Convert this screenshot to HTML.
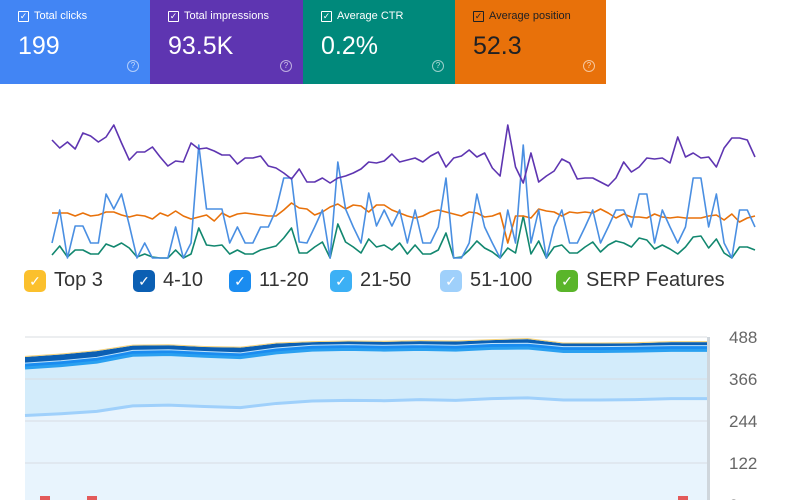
<!DOCTYPE html>
<html><head><meta charset="utf-8">
<style>
body{margin:0;width:800px;height:500px;overflow:hidden;background:#fff;font-family:"Liberation Sans",sans-serif;position:relative}
.card{position:absolute;top:0;height:84px;color:#fff}
.card .lbl{position:absolute;left:18px;top:10px;font-size:11px;display:flex;align-items:center;gap:5px}
.cb{width:9px;height:9px;border:1.3px solid currentColor;border-radius:1px;font-size:9px;line-height:9px;text-align:center}
.card .num{position:absolute;left:18px;top:32px;font-size:25px}
.card .help{position:absolute;right:11px;top:60px;width:10px;height:10px;border:1px solid rgba(255,255,255,.6);border-radius:50%;font-size:8px;line-height:10px;text-align:center;color:rgba(255,255,255,.7)}
.leg{position:absolute;top:269px;display:flex;align-items:center;font-size:20px;color:#333}
.leg .box{width:22px;height:22px;border-radius:5px;color:#fff;font-size:14px;line-height:22px;text-align:center;margin-right:8px}
</style></head><body>
<div class="card" style="left:0;width:150px;background:#4285f4"><div class="lbl"><span class="cb">✓</span>Total clicks</div><div class="num">199</div><div class="help">?</div></div>
<div class="card" style="left:150px;width:153px;background:#5e35b1"><div class="lbl"><span class="cb">✓</span>Total impressions</div><div class="num">93.5K</div><div class="help">?</div></div>
<div class="card" style="left:303px;width:152px;background:#00897b"><div class="lbl"><span class="cb">✓</span>Average CTR</div><div class="num">0.2%</div><div class="help">?</div></div>
<div class="card" style="left:455px;width:151px;background:#e8710a;color:#202124"><div class="lbl"><span class="cb">✓</span>Average position</div><div class="num">52.3</div><div class="help">?</div></div>

<svg id="lc" width="800" height="262" style="position:absolute;left:0;top:0"></svg>

<div class="leg" style="left:24px"><span class="box" style="background:#fbc02d">✓</span>Top 3</div>
<div class="leg" style="left:133px"><span class="box" style="background:#0b5fb3">✓</span>4-10</div>
<div class="leg" style="left:229px"><span class="box" style="background:#1a8cf0">✓</span>11-20</div>
<div class="leg" style="left:330px"><span class="box" style="background:#3cb0f5">✓</span>21-50</div>
<div class="leg" style="left:440px"><span class="box" style="background:#9fd0fb">✓</span>51-100</div>
<div class="leg" style="left:556px"><span class="box" style="background:#5ab52a">✓</span>SERP Features</div>

<svg id="ac" width="800" height="500" style="position:absolute;left:0;top:0;pointer-events:none"></svg>

<script>
// line chart data (relative values)
const purple=[110,102,108,101,117,114,108,113,125,107,90,98,98,103,93,84,89,88,107,101,102,99,95,95,86,92,92,94,84,82,77,71,81,68,68,72,67,72,74,77,81,88,87,89,96,88,90,92,88,94,98,83,92,94,100,93,97,82,74,125,83,67,97,68,74,79,91,87,71,72,72,68,64,72,88,78,83,92,91,92,87,113,93,97,92,93,83,102,112,112,110,93];
const blue=[7,40,-8,24,24,7,7,56,41,56,25,-8,7,-8,-8,-8,23,-8,7,105,41,41,41,7,23,7,7,23,23,40,72,72,8,7,23,40,-8,88,41,23,7,57,24,40,24,40,7,40,7,7,23,72,-8,-8,7,56,23,7,-8,40,7,105,7,40,-8,23,40,7,7,23,40,7,23,40,40,23,56,56,7,40,23,7,23,72,72,23,56,7,-8,40,40,23];
const orange=[37,37,37,34,37,34,35,38,38,35,33,35,34,31,37,34,39,34,31,33,35,29,37,33,36,37,36,35,34,34,40,47,42,41,35,38,43,46,41,45,44,38,45,45,40,37,34,32,34,38,40,38,36,34,38,37,33,34,37,7,34,34,32,41,39,38,34,38,37,38,37,41,37,32,36,33,33,32,36,33,32,33,32,32,32,34,35,30,36,28,32,34];
const green=[-5,4,-7,0,0,-4,-4,6,3,7,2,-7,-4,-7,-8,-8,0,-8,-4,22,5,4,5,-4,0,-4,-4,0,2,4,12,22,-3,-3,3,8,-8,26,8,3,-3,11,3,5,0,7,-4,5,-4,-4,0,17,-8,-7,0,9,2,-2,-8,2,-3,34,-4,9,-8,3,5,-3,-3,3,8,-2,5,9,7,3,12,10,1,5,1,-4,3,13,14,2,11,-3,-8,3,3,0];
// area chart data (per-series, stacked)
const s51=[260,265,272,288,290,286,283,295,302,304,303,306,304,309,311,305,305,306,309,309];
const s21=[138,140,143,147,147,146,145,147,148,148,147,146,146,146,145,141,141,141,140,140];
const s11=[14,14,14,14,14,14,14,14,14,14,14,14,14,14,14,14,14,14,14,14];
const s4=[18,18,18,14,13,13,15,13,9,9,10,10,11,10,12,9,9,9,10,10];
const s3=[3,3,3,3,3,3,3,3,3,3,3,3,3,3,3,3,3,3,3,3];
const ticks=[0,122,244,366,488];

const NS='http://www.w3.org/2000/svg';
function mk(parent,tag,attrs){const e=document.createElementNS(NS,tag);for(const k in attrs)e.setAttribute(k,attrs[k]);parent.appendChild(e);return e;}
const lc=document.getElementById('lc');
const lx=i=>52+i*(755-52)/(purple.length-1);
const ly=v=>250-v;
[[green,'#12876f','green-line'],[orange,'#e8710a','orange-line'],[blue,'#4a8fe2','blue-line'],[purple,'#5e35b1','purple-line']].forEach(([d,c,n])=>{
  const p=mk(lc,'polyline',{points:d.map((v,i)=>lx(i)+','+ly(v)).join(' '),fill:'none',stroke:c,'stroke-width':1.6,'stroke-linejoin':'round'});
  
  
});
const ac=document.getElementById('ac');
const X0=25,X1=707,Y0=505,YT=337;
const ax=i=>X0+i*(X1-X0)/(s51.length-1);
const ay=v=>Y0-(v/488)*(Y0-YT);
mk(ac,'rect',{x:X0,y:YT,width:X1-X0,height:Y0-YT,fill:'#fff'});
const stacks=[];let cum=s51.map(()=>0);
[[s51,'#e8f4fd','area-51-100'],[s21,'#d3ecfb','area-21-50'],[s11,'#1a8cf0','area-11-20'],[s4,'#0b5fb3','area-4-10'],[s3,'#f5d27a','area-top-3']].forEach(([d,fill,n])=>{
  const lo=cum.slice();cum=cum.map((c,i)=>c+d[i]);
  const pts=cum.map((v,i)=>ax(i)+','+ay(v)).join(' ')+' '+lo.map((v,i)=>ax(i)+','+ay(v)).reverse().join(' ');
  const a=mk(ac,'polygon',{points:pts,fill:fill});
  
  
  stacks.push(cum.slice());
});
const l1=mk(ac,'polyline',{points:stacks[0].map((v,i)=>ax(i)+','+ay(v)).join(' '),fill:'none',stroke:'#9fd0fb','stroke-width':3});


const l2=mk(ac,'polyline',{points:stacks[1].map((v,i)=>ax(i)+','+ay(v)).join(' '),fill:'none',stroke:'#2aa0f0','stroke-width':3});


const l3=mk(ac,'polyline',{points:stacks[2].map((v,i)=>ax(i)+','+ay(v)).join(' '),fill:'none',stroke:'#bfe3fb','stroke-width':1});


ticks.forEach(t=>{
  const g=mk(ac,'line',{x1:X0,x2:X1,y1:ay(t),y2:ay(t),stroke:'#d9dde2','stroke-width':1.2,opacity:0.8});
  
  
  const tx=mk(ac,'text',{x:729,y:ay(t)+6,'font-size':17,fill:'#666','font-family':'Liberation Sans, sans-serif'});
  tx.textContent=t;
  
  
});
const rb=mk(ac,'rect',{x:X1,y:YT,width:3,height:Y0-YT,fill:'#cfd6dc'});


[45,92,683].forEach(x=>{
  const m=mk(ac,'rect',{x:x-5,y:496,width:10,height:6,fill:'#e35a5a'});
  
  
});
</script>
</body></html>
